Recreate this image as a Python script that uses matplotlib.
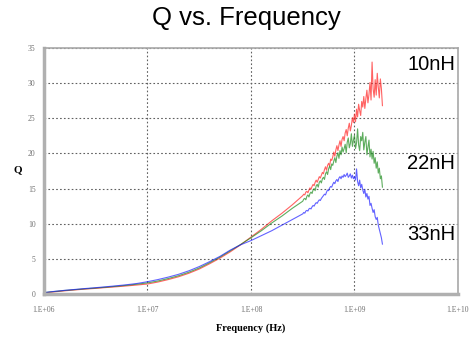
import matplotlib.pyplot as plt
import numpy as np

# frequency exponents (log10 Hz): coarse smooth part, then dense noisy part
exp_low = [6.0, 6.1, 6.2, 6.3, 6.4, 6.5, 6.6, 6.7, 6.8, 6.9,
           7.0, 7.1, 7.2, 7.3, 7.4, 7.5, 7.6, 7.7, 7.8, 7.9,
           8.0, 8.1, 8.2, 8.3, 8.4]
exp_high = [8.50, 8.51, 8.52, 8.53, 8.54, 8.55, 8.56, 8.57, 8.58, 8.59,
            8.60, 8.61, 8.62, 8.63, 8.64, 8.65, 8.66, 8.67, 8.68, 8.69,
            8.70, 8.71, 8.72, 8.73, 8.74, 8.75, 8.76, 8.77, 8.78, 8.79,
            8.80, 8.81, 8.82, 8.83, 8.84, 8.85, 8.86, 8.87, 8.88, 8.89,
            8.90, 8.91, 8.92, 8.93, 8.94, 8.95, 8.96, 8.97, 8.98, 8.99,
            9.00, 9.01, 9.02, 9.03, 9.04, 9.05, 9.06, 9.07, 9.08, 9.09,
            9.10, 9.11, 9.12, 9.13, 9.14, 9.15, 9.16, 9.17, 9.18, 9.19,
            9.20, 9.21, 9.22, 9.23, 9.24, 9.25, 9.26, 9.27]

q_10nH = [0.15, 0.3, 0.45, 0.58, 0.7, 0.8, 0.92, 1.03, 1.15, 1.28,
          1.42, 1.7, 2.05, 2.45, 2.95, 3.55, 4.3, 5.1, 6.0, 7.0,
          8.1, 9.2, 10.4, 11.5, 12.7,
          14.0, 14.2, 14.1, 14.5, 14.6, 14.4, 14.8, 15.1, 14.9, 15.3,
          15.6, 15.4, 15.9, 16.2, 15.9, 16.3, 16.7, 16.5, 16.9, 17.3,
          17.1, 17.7, 18.1, 17.6, 18.3, 18.6, 18.2, 19.2, 19.0, 19.5,
          20.2, 19.6, 20.5, 21.1, 20.4, 21.2, 21.8, 21.0, 22.0, 22.4,
          21.8, 22.9, 23.4, 22.5, 23.6, 24.3, 23.2, 24.0, 25.1, 24.4,
          25.6, 24.5, 26.3, 25.2, 27.0, 26.1, 25.4, 27.4, 26.6, 28.1,
          26.4, 27.8, 29.0, 27.2, 28.4, 30.1, 27.6, 33.0, 29.2, 28.0,
          30.5, 28.3, 31.4, 29.4, 27.9, 30.6, 29.2, 26.8]
q_22nH = [0.2, 0.35, 0.5, 0.62, 0.74, 0.85, 0.97, 1.1, 1.24, 1.4,
          1.58, 1.85, 2.2, 2.6, 3.1, 3.7, 4.45, 5.25, 6.15, 7.05,
          8.0, 9.0, 10.1, 11.1, 12.2,
          13.2, 13.5, 13.6, 13.4, 13.9, 14.1, 13.8, 14.3, 14.5, 14.3,
          14.8, 15.0, 14.7, 15.4, 15.6, 15.2, 15.9, 16.1, 15.8, 16.4,
          16.6, 16.3, 17.1, 17.4, 17.0, 17.8, 18.2, 17.7, 18.5, 18.3,
          18.9, 19.4, 18.7, 19.6, 20.1, 19.3, 20.4, 19.8, 20.9, 20.2,
          20.7, 21.3, 20.1, 21.6, 22.2, 20.8, 21.4, 22.8, 21.0, 21.9,
          22.6, 20.7, 21.5, 23.5, 21.2, 20.4, 22.4, 21.8, 23.0, 20.5,
          21.6, 22.4, 19.8, 20.9, 21.9, 19.5, 20.6, 19.2, 20.3, 18.6,
          19.4, 17.9, 18.8, 17.2, 17.9, 16.4, 16.8, 15.2]
q_33nH = [0.2, 0.37, 0.52, 0.65, 0.78, 0.9, 1.03, 1.17, 1.32, 1.5,
          1.75, 2.05, 2.4, 2.8, 3.3, 3.9, 4.6, 5.35, 6.25, 7.0,
          7.6, 8.3, 9.0, 9.8, 10.6,
          11.4, 11.6, 11.5, 11.8, 11.9, 11.8, 12.1, 12.2, 12.1, 12.4,
          12.6, 12.5, 12.8, 13.0, 12.9, 13.2, 13.4, 13.3, 13.6, 13.8,
          14.0, 14.2, 14.1, 14.5, 14.8, 14.7, 15.1, 15.3, 15.2, 15.6,
          15.9, 15.7, 16.1, 16.3, 16.0, 16.5, 16.7, 16.4, 16.8, 16.6,
          17.0, 16.7, 16.9, 17.2, 16.6, 16.8, 17.1, 16.5, 16.9, 16.4,
          16.7, 16.2, 17.8, 16.0, 15.4, 16.2, 15.1, 15.6, 14.8, 14.3,
          14.9, 13.8, 14.3, 13.5, 13.9, 12.6, 12.9, 12.2, 11.6, 12.0,
          11.0, 10.6, 10.9, 9.8, 9.2, 8.6, 8.0, 7.1]

freq = 10.0 ** np.array(exp_low + exp_high)
x_ticks = [1e6, 1e7, 1e8, 1e9, 1e10]
x_labels = ['1.E+06', '1.E+07', '1.E+08', '1.E+09', '1.E+10']
y_ticks = [0, 5, 10, 15, 20, 25, 30, 35]

fig = plt.figure(figsize=(4.69, 3.40), dpi=100)
ax = fig.add_axes([0.0938, 0.1353, 0.8827, 0.7235])

ax.plot(freq, q_10nH, color='#ff2020', lw=0.8, alpha=0.7)
ax.plot(freq, q_22nH, color='#1a8a1a', lw=0.8, alpha=0.7)
ax.plot(freq, q_33nH, color='#2020ff', lw=0.8, alpha=0.7)

ax.set_xscale('log')
ax.set_xlim(1e6, 1e10)
ax.set_ylim(0, 35)
ax.set_xticks(x_ticks)
ax.set_xticklabels(x_labels)
ax.set_yticks(y_ticks)
ax.minorticks_off()
ax.tick_params(length=0, labelsize=5.5, labelcolor='#707070')
ax.tick_params(axis='x', pad=9)
ax.tick_params(axis='y', pad=6)
for lab in ax.get_xticklabels() + ax.get_yticklabels():
    lab.set_fontfamily('Liberation Serif')

ax.grid(True, color='#606060', linestyle=(0, (1.5, 2)), lw=0.8)
for side in ['left', 'bottom']:
    ax.spines[side].set_color('#b0b0b0')
    ax.spines[side].set_linewidth(2.5)
for side in ['top', 'right']:
    ax.spines[side].set_color('#a8a8a8')
    ax.spines[side].set_linewidth(1.2)

fig.text(0.5245, 0.947, 'Q vs. Frequency', ha='center', va='center',
         fontsize=18.5, family='Liberation Sans')
fig.text(0.038, 0.50, 'Q', ha='center', va='center', fontsize=8,
         fontweight='bold', family='Liberation Serif')
fig.text(0.535, 0.035, 'Frequency (Hz)', ha='center', va='center', fontsize=7.5,
         fontweight='bold', family='Liberation Serif')

for lab, yp in [('10nH', 65), ('22nH', 163), ('33nH', 234)]:
    fig.text(407 / 469, 1 - yp / 340, lab, ha='left', va='center',
             fontsize=14.5, family='Liberation Sans')

fig.savefig('out.png', dpi=100)
